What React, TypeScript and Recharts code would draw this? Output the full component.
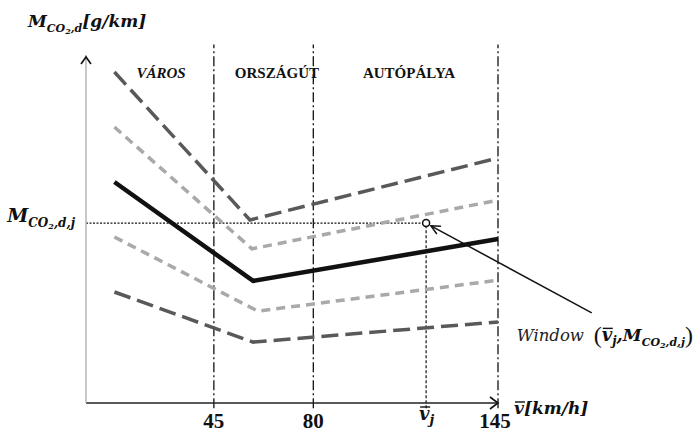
import React from 'react';
import { LineChart, Line, XAxis, YAxis, ReferenceLine, ReferenceDot } from 'recharts';

const TEXT_FONT = '"Liberation Serif", "Times New Roman", serif';
const MATH_FONT = '"DejaVu Serif", serif';

// schematic CO2 emission curves vs. average speed (y in relative units 0-100)
const curveTop = [{ x: 10, y: 95.1 }, { x: 57.7, y: 52.6 }, { x: 145, y: 70.4 }];
const curveUpper = [{ x: 10, y: 79.3 }, { x: 58.4, y: 44.3 }, { x: 145, y: 58.3 }];
const curveMain = [{ x: 10, y: 63.5 }, { x: 58.8, y: 35.1 }, { x: 145, y: 47.1 }];
const curveLower = [{ x: 10, y: 47.7 }, { x: 60.5, y: 26.4 }, { x: 145, y: 35.3 }];
const curveBottom = [{ x: 10, y: 31.9 }, { x: 58.8, y: 17.5 }, { x: 145, y: 23.3 }];

const zoneEdges = [45, 80, 145];
const zoneNames = ['VÁROS', 'ORSZÁGÚT', 'AUTÓPÁLYA'];
const zoneItalic = [true, false, false];
const zoneNameX = [26.4, 67.2, 113.7];
const zoneNameY = 94.8;

const xTicks = [45, 80, 119.7, 145];
const xTickLabels = ['45', '80', 'vj', '145'];

const vj = 119.7;
const mj = 51.7;
const windowTail = { x: 178, y: 25.9 };
const windowHead = { x: 121.4, y: 50.9 };

const mathProps = { fontFamily: MATH_FONT, fontStyle: 'italic', fontWeight: 'bold', fill: '#111' } as const;

const XTick = ({ x, y, payload }: any) => {
  const label = xTickLabels[xTicks.indexOf(payload.value)];
  if (label === 'vj') {
    return (
      <g>
        <text x={x - 7} y={y + 17} {...mathProps} fontSize={18}>
          v<tspan fontSize={13} dy={4}>j</tspan>
        </text>
        <line x1={x - 6} x2={x + 4} y1={y + 4} y2={y + 4} stroke="#111" strokeWidth={1.4} />
      </g>
    );
  }
  const shift = label === '145' ? -3 : 0;
  return (
    <text x={x + shift} y={y + 25} textAnchor="middle" fontFamily={TEXT_FONT} fontWeight="bold" fontSize={21} fill="#111">
      {label}
    </text>
  );
};

const YTick = ({ x, y }: any) => (
  <text x={x - 11} y={y - 1} textAnchor="end" {...mathProps}>
    <tspan fontSize={19}>M</tspan>
    <tspan fontSize={12} dy={5}>CO</tspan>
    <tspan fontSize={8} dy={2}>2</tspan>
    <tspan fontSize={12} dy={-2}>,d,j</tspan>
  </text>
);

const YArrow = ({ cx, cy }: any) => (
  <g>
    <path d={`M${cx - 5},${cy + 9}L${cx},${cy + 2}L${cx + 5},${cy + 9}`} fill="none" stroke="#111" strokeWidth={1.6} />
    <text x={cx - 58} y={cy - 28} {...mathProps}>
      <tspan fontSize={17}>M</tspan>
      <tspan fontSize={11} dy={5}>CO</tspan>
      <tspan fontSize={8} dy={2}>2</tspan>
      <tspan fontSize={11} dy={-2}>,d</tspan>
      <tspan fontSize={17} dy={-5}>[g/km]</tspan>
    </text>
  </g>
);

const XArrow = ({ cx, cy }: any) => (
  <g>
    <path d={`M${cx - 8},${cy - 6}L${cx},${cy}L${cx - 8},${cy + 6}`} fill="none" stroke="#111" strokeWidth={1.6} />
    <text x={cx + 16} y={cy + 11} {...mathProps} fontSize={17}>
      v[km/h]
    </text>
    <line x1={cx + 17} x2={cx + 27} y1={cy - 1} y2={cy - 1} stroke="#111" strokeWidth={1.4} />
  </g>
);

const zoneLabel = (i: number) => ({ cx, cy }: any) => (
  <text
    x={cx}
    y={cy + 5}
    textAnchor="middle"
    fontFamily={TEXT_FONT}
    fontWeight="bold"
    fontStyle={zoneItalic[i] ? 'italic' : 'normal'}
    fontSize={15}
    fill="#111"
  >
    {zoneNames[i]}
  </text>
);

const WindowArrow = ({ x1, y1, x2, y2 }: any) => {
  const ang = Math.atan2(y1 - y2, x1 - x2);
  const L = 10;
  const p1 = [x2 + L * Math.cos(ang + 0.45), y2 + L * Math.sin(ang + 0.45)];
  const p2 = [x2 + L * Math.cos(ang - 0.45), y2 + L * Math.sin(ang - 0.45)];
  const tx = x1 - 75;
  const ty = y1 + 28;
  return (
    <g>
      <line x1={x1} y1={y1} x2={x2} y2={y2} stroke="#111" strokeWidth={1.5} />
      <path d={`M${p1[0]},${p1[1]}L${x2},${y2}L${p2[0]},${p2[1]}`} fill="none" stroke="#111" strokeWidth={1.5} />
      <text x={tx} y={ty} fontFamily={MATH_FONT} fontStyle="italic" fontSize={16.5} fill="#222">
        Window
      </text>
      <text x={tx + 77} y={ty + 2} fill="#111">
        <tspan fontFamily={TEXT_FONT} fontSize={24}>(</tspan>
        <tspan {...mathProps} fontSize={18} dy={-2}>v</tspan>
        <tspan {...mathProps} fontSize={12} dy={4}>j</tspan>
        <tspan {...mathProps} fontSize={18} dy={-4}>,</tspan>
        <tspan {...mathProps} fontSize={17}>M</tspan>
        <tspan {...mathProps} fontSize={11} dy={5}>CO</tspan>
        <tspan {...mathProps} fontSize={8} dy={2}>2</tspan>
        <tspan {...mathProps} fontSize={11} dy={-2}>,d,j</tspan>
        <tspan fontFamily={TEXT_FONT} fontSize={24} dy={-3}>)</tspan>
      </text>
      <line x1={tx + 86} x2={tx + 96} y1={ty - 12.5} y2={ty - 12.5} stroke="#111" strokeWidth={1.4} />
    </g>
  );
};

export default function App() {
  return (
    <div style={{ position: 'absolute', left: 0, top: 0, width: 700, height: 432, background: '#fff' }}>
      <LineChart width={700} height={432} margin={{ top: 55, right: 202, bottom: 0, left: 0 }}>
        <XAxis
          type="number"
          dataKey="x"
          domain={[0, 145]}
          ticks={xTicks}
          interval={0}
          tick={<XTick />}
          tickLine={false}
          tickSize={0}
          tickMargin={0}
          height={29}
          axisLine={{ stroke: '#222', strokeWidth: 1.5 }}
        />
        <YAxis
          type="number"
          dataKey="y"
          domain={[0, 100]}
          ticks={[mj]}
          interval={0}
          tick={<YTick />}
          tickLine={false}
          tickSize={0}
          tickMargin={0}
          width={86}
          axisLine={{ stroke: '#b5b5b5', strokeWidth: 1.5 }}
        />

        {zoneEdges.map((e) => (
          <ReferenceLine
            key={`edge-${e}`}
            segment={[{ x: e, y: -1.5 }, { x: e, y: 103 }]}
            ifOverflow="visible"
            stroke="#111"
            strokeWidth={1.3}
            strokeDasharray="10 3 2 3"
          />
        ))}
        {zoneNames.map((n, i) => (
          <ReferenceDot key={n} x={zoneNameX[i]} y={zoneNameY} r={0} ifOverflow="visible" shape={zoneLabel(i)} />
        ))}

        <ReferenceLine
          segment={[{ x: 0, y: mj }, { x: vj, y: mj }]}
          ifOverflow="visible"
          stroke="#111"
          strokeWidth={1.2}
          strokeDasharray="2 1.5"
        />
        <ReferenceLine
          segment={[{ x: vj, y: -1.5 }, { x: vj, y: mj }]}
          ifOverflow="visible"
          stroke="#111"
          strokeWidth={1.2}
          strokeDasharray="3 2"
        />

        <Line data={curveTop} dataKey="y" type="linear" stroke="#595959" strokeWidth={3.5} strokeDasharray="17 7" dot={false} activeDot={false} isAnimationActive={false} />
        <Line data={curveUpper} dataKey="y" type="linear" stroke="#a9a9a9" strokeWidth={3.5} strokeDasharray="9 6" dot={false} activeDot={false} isAnimationActive={false} />
        <Line data={curveMain} dataKey="y" type="linear" stroke="#111" strokeWidth={4.5} dot={false} activeDot={false} isAnimationActive={false} />
        <Line data={curveLower} dataKey="y" type="linear" stroke="#a9a9a9" strokeWidth={3.5} strokeDasharray="9 6" dot={false} activeDot={false} isAnimationActive={false} />
        <Line data={curveBottom} dataKey="y" type="linear" stroke="#595959" strokeWidth={3.5} strokeDasharray="17 7" dot={false} activeDot={false} isAnimationActive={false} />

        <ReferenceLine segment={[windowTail, windowHead]} ifOverflow="visible" shape={WindowArrow} />
        <ReferenceDot x={vj} y={mj} r={3.5} fill="#fff" stroke="#111" strokeWidth={1.5} ifOverflow="visible" />
        <ReferenceDot x={0} y={100} r={0} ifOverflow="visible" shape={YArrow} />
        <ReferenceDot x={145} y={0} r={0} ifOverflow="visible" shape={XArrow} />
      </LineChart>
    </div>
  );
}
